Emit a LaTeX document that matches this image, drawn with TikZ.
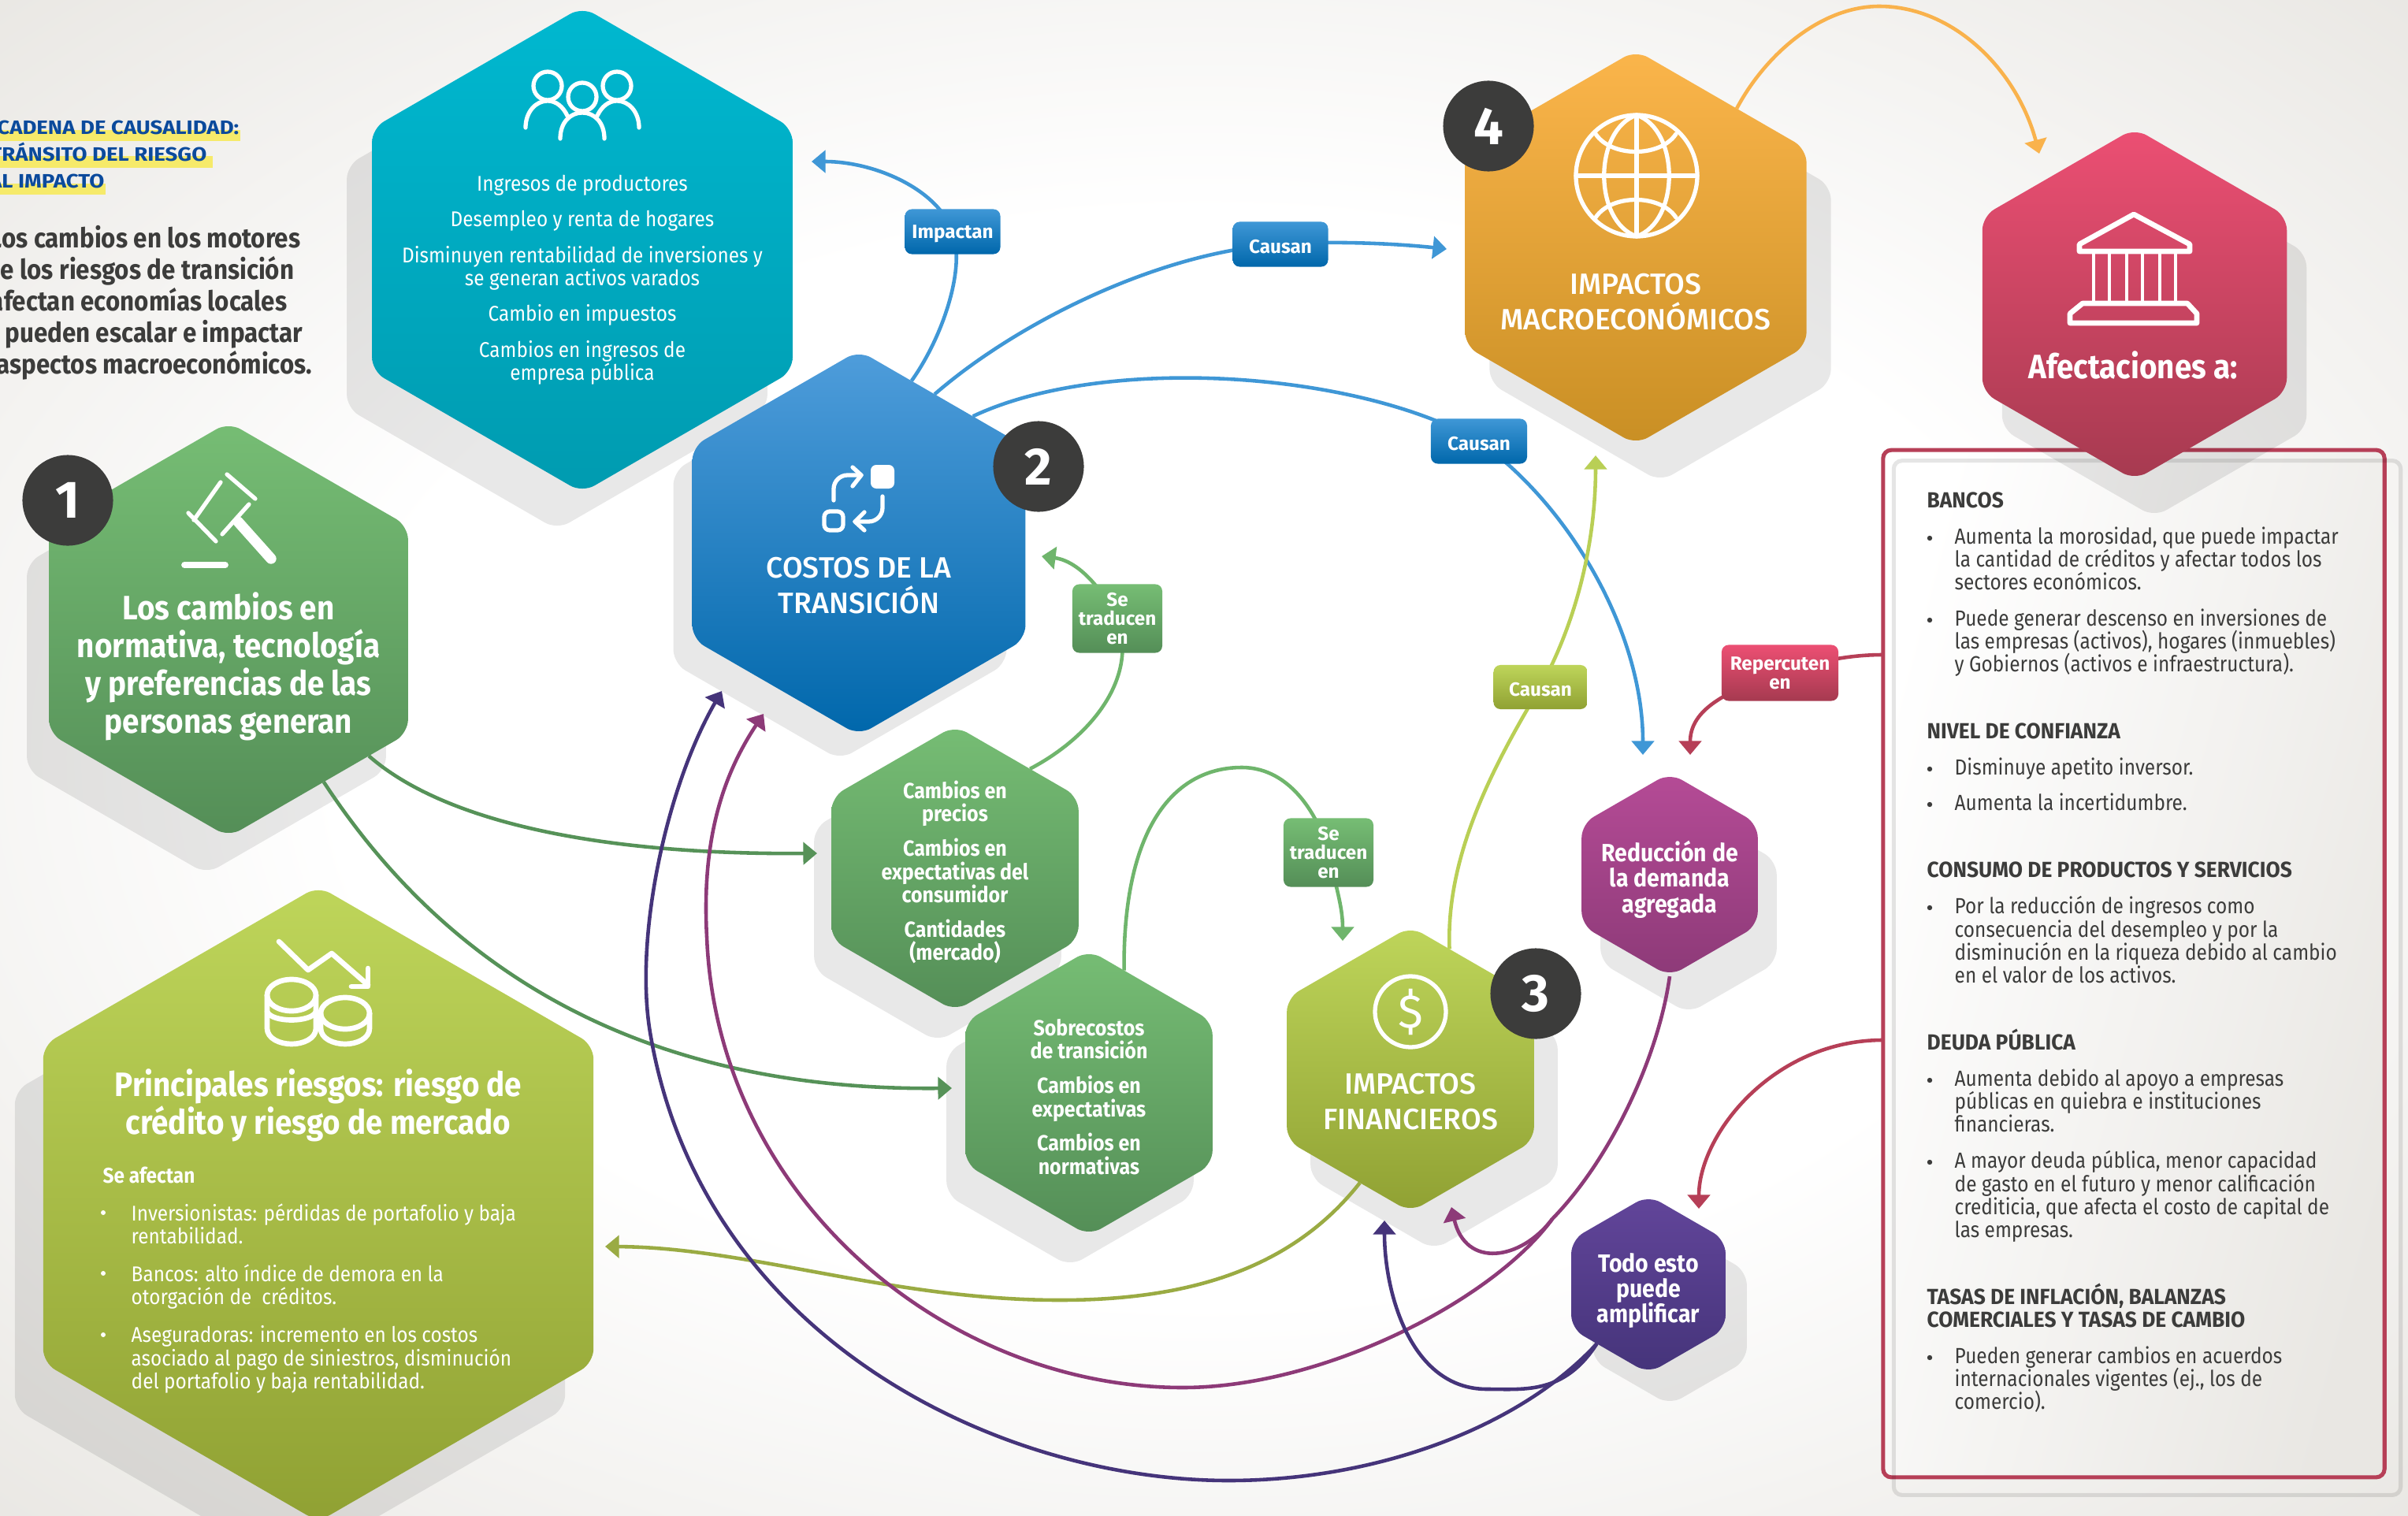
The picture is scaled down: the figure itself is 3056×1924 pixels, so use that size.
\documentclass[tikz,border=0pt]{standalone}
\usepackage{xcolor}
\usepackage{fontspec}
\usetikzlibrary{shapes.geometric, arrows.meta}
\setmainfont{Fira Sans}
\newfontfamily\condfont{Fira Sans}[FakeStretch=0.88]
\newfontfamily\narrowfont{Fira Sans}[FakeStretch=0.9]
\newfontfamily\headfont{Fira Sans}[FakeStretch=0.95]
\newfontfamily\widefont{Fira Sans}[FakeStretch=1.12]
\newfontfamily\mediumfont{Fira Sans Medium}
\lineskiplimit=-20pt

\definecolor{pageedge}{HTML}{E9E7E3}
\definecolor{darktext}{HTML}{3C3C3B}
\definecolor{tealtop}{HTML}{00B8D0}
\definecolor{tealbot}{HTML}{009BB0}
\definecolor{greentop}{HTML}{76BD74}
\definecolor{greenbot}{HTML}{548E57}
\definecolor{bluetop}{HTML}{4F9DDB}
\definecolor{bluebot}{HTML}{0067AB}
\definecolor{orangetop}{HTML}{FBB54B}
\definecolor{orangebot}{HTML}{C98F24}
\definecolor{rosetop}{HTML}{EC4F73}
\definecolor{rosebot}{HTML}{A63A50}
\definecolor{olivetop}{HTML}{BED55A}
\definecolor{olivebot}{HTML}{90A133}
\definecolor{plumtop}{HTML}{B54B96}
\definecolor{plumbot}{HTML}{8D3A78}
\definecolor{indigotop}{HTML}{62459A}
\definecolor{indigobot}{HTML}{45347A}
\definecolor{linkblue}{HTML}{3F97D6}
\definecolor{linkgreen}{HTML}{6FB56C}
\definecolor{linkforest}{HTML}{569258}
\definecolor{linkolive}{HTML}{B9CF55}
\definecolor{linkmoss}{HTML}{9AAB43}
\definecolor{linkred}{HTML}{B63F57}
\definecolor{linkorange}{HTML}{F9B24C}
\definecolor{titleblue}{HTML}{0B4A9C}
\definecolor{marker}{HTML}{F6EA6A}

\pgfdeclareradialshading{pagefade}{\pgfpointorigin}{color(0bp)=(white); color(18bp)=(white); color(36bp)=(pageedge); color(50bp)=(pageedge)}
\pgfdeclarelayer{back}
\pgfdeclarelayer{lines}
\pgfsetlayers{back,lines,main}

\begin{document}
\begin{tikzpicture}[
            x=0.01cm, y=-0.01cm,
            hexa/.style={regular polygon, regular polygon sides=6, shape border rotate=30, rounded corners=5pt, inner sep=0pt, outer sep=0pt},
            hexshadow/.style={regular polygon, regular polygon sides=6, shape border rotate=30, rounded corners=5pt, inner sep=0pt, fill=black, fill opacity=0.09},
            hextext/.style={text=white, align=center, inner sep=0pt, font=\narrowfont\bfseries\fontsize{7.9}{8.4}\selectfont},
            hexbig/.style={text=white, align=center, inner sep=0pt, font=\narrowfont\bfseries\fontsize{9}{9.2}\selectfont},
            tag/.style={rounded corners=2.5pt, inner sep=0pt, text=white, align=center, font=\bfseries\fontsize{6.9}{6.9}\selectfont,
                execute at begin node={\rule{0pt}{6.4pt}}},
            num/.style={circle, fill=darktext, inner sep=0pt, minimum size=1.15cm, text=white, font=\bfseries\fontsize{19}{19}\selectfont},
            headline/.style={text=white, align=center, inner sep=0pt, font=\mediumfont\fontsize{10.6}{12.8}\selectfont},
            bigline/.style={text=white, align=center, inner sep=0pt, font=\narrowfont\bfseries\fontsize{12.2}{13.7}\selectfont},
            lighttext/.style={text=white, inner sep=0pt, font=\narrowfont\fontsize{7.7}{8.3}\selectfont},
            paneltext/.style={anchor=north west, align=left, inner sep=0pt, text=darktext, font=\condfont\fontsize{7.9}{8.33}\selectfont},
            panelhead/.style={paneltext, font=\headfont\bfseries\fontsize{7.9}{8.33}\selectfont},
            sidetitle/.style={anchor=base east, inner sep=0pt, text=titleblue, font=\widefont\bfseries\fontsize{7}{7}\selectfont},
            sidetext/.style={anchor=base east, inner sep=0pt, text=darktext, font=\narrowfont\bfseries\fontsize{9.9}{11}\selectfont},
            link/.style={line width=1.3pt, -{Triangle[width=8pt,length=5pt]}},
            icon/.style={draw=white, line width=1.5pt, line cap=round, line join=round},
        ]
            \useasboundingbox (0,0) rectangle (3056,1924);
            \begin{pgfonlayer}{back}
                \shade[shading=pagefade] (0,0) rectangle (3056,1924);
                \node[rectangle, rounded corners=3pt, inner sep=0pt, outer sep=0pt, draw=linkred, line width=1.45pt,
                    left color=white, right color=pageedge, shading angle=75,
                    minimum width=6.36cm, minimum height=13.03cm] (panel) at (2708,1223) {};
                \node[rectangle, rounded corners=3pt, inner sep=0pt, draw=black, draw opacity=0.1, line width=1.45pt,
                    minimum width=6.43cm, minimum height=13.12cm] (panelshadow) at (2725,1241) {};
                \node[hexshadow, minimum size=6.16cm] (ingresosshadow) at (707,364) {};
                \node[hexshadow, minimum size=5.26cm] (motoresshadow) at (262,846) {};
                \node[hexshadow, minimum size=4.88cm] (costosshadow) at (1066,720) {};
                \node[hexshadow, minimum size=8.06cm] (riesgosshadow) at (368,1586) {};
                \node[hexshadow, minimum size=3.62cm] (preciosshadow) at (1190,1141) {};
                \node[hexshadow, minimum size=3.62cm] (sobrecostosshadow) at (1358,1426) {};
                \node[hexshadow, minimum size=3.62cm] (financierosshadow) at (1820,1405) {};
                \node[hexshadow, minimum size=2.58cm] (demandashadow) at (2143,1157) {};
                \node[hexshadow, minimum size=2.26cm] (amplificarshadow) at (2119,1670) {};
                \node[hexshadow, minimum size=5.00cm] (macroshadow) at (2107,361) {};
                \node[hexshadow, minimum size=4.46cm] (afectacionesshadow) at (2734,433) {};
            \end{pgfonlayer}

            \clip (0,0) rectangle (3056,1924);

            \fill[marker] (0,165) rectangle (305,179);
            \fill[marker] (0,198) rectangle (270,213);
            \fill[marker] (0,233) rectangle (134,247);
            \node[sidetitle] (titlea) at (304,170) {CADENA DE CAUSALIDAD:};
            \node[sidetitle] (titleb) at (263,204) {TRÁNSITO DEL RIESGO};
            \node[sidetitle] (titlec) at (133,238) {AL IMPACTO};
            \node[sidetext] (sidea) at (382,314) {Los cambios en los motores};
            \node[sidetext] (sideb) at (374,354) {de los riesgos de transición};
            \node[sidetext] (sidec) at (365,394) {afectan economías locales};
            \node[sidetext] (sided) at (385,434) {y pueden escalar e impactar};
            \node[sidetext] (sidee) at (397,474) {aspectos macroeconómicos.};

            \node[hexa, top color=tealtop, bottom color=tealbot, minimum size=6.16cm] (ingresos) at (739,317) {};
            \node[lighttext, align=center] (ingresostext) at (739,355) {Ingresos de productores\\[4.6pt]
                Desempleo y renta de hogares\\[4.6pt]
                Disminuyen rentabilidad de inversiones y\\se generan activos varados\\[4.6pt]
                Cambio en impuestos\\[4.6pt]
                Cambios en ingresos de\\empresa pública};

            \node[hexa, top color=greentop, bottom color=greenbot, minimum size=5.26cm] (motores) at (290,799) {};
            \node[bigline] (motorestext) at (290,846) {Los cambios en\\normativa, tecnología\\y preferencias de las\\personas generan};

            \node[hexa, top color=bluetop, bottom color=bluebot, minimum size=4.88cm] (costos) at (1090,689) {};
            \node[headline] (costostext) at (1090,743) {COSTOS DE LA\\TRANSICIÓN};

            \node[hexa, top color=olivetop, bottom color=olivebot, minimum size=8.06cm] (riesgos) at (404,1528) {};
            \node[bigline] (riesgostitle) at (404,1403) {Principales riesgos: riesgo de\\crédito y riesgo de mercado};
            \node[lighttext, anchor=west, font=\narrowfont\bfseries\fontsize{7.7}{8.3}\selectfont] (seafectan) at (130,1491) {Se afectan};
            \node[lighttext, anchor=north west, align=left] (riesgosa) at (166,1527) {Inversionistas: pérdidas de portafolio y baja\\rentabilidad.};
            \node[lighttext, anchor=north west, align=left] (riesgosb) at (166,1604) {Bancos: alto índice de demora en la\\otorgación de\ \ créditos.};
            \node[lighttext, anchor=north west, align=left] (riesgosc) at (166,1682) {Aseguradoras: incremento en los costos\\asociado al pago de siniestros, disminución\\del portafolio y baja rentabilidad.};
            \fill[white] (131,1539) circle (3) (131,1616) circle (3) (131,1694) circle (3);

            \node[hexa, top color=greentop, bottom color=greenbot, minimum size=3.62cm] (precios) at (1212,1102) {};
            \node[hextext] (preciostext) at (1212,1107) {Cambios en\\precios\\[4pt]Cambios en\\expectativas del\\consumidor\\[4pt]Cantidades\\(mercado)};
            \node[hexa, top color=greentop, bottom color=greenbot, minimum size=3.62cm] (sobrecostos) at (1382,1387) {};
            \node[hextext] (sobrecostostext) at (1382,1392) {Sobrecostos\\de transición\\[4pt]Cambios en\\expectativas\\[4pt]Cambios en\\normativas};

            \node[hexa, top color=olivetop, bottom color=olivebot, minimum size=3.62cm] (financieros) at (1790,1357) {};
            \node[headline] (financierostext) at (1790,1398) {IMPACTOS\\FINANCIEROS};

            \node[hexa, top color=plumtop, bottom color=plumbot, minimum size=2.58cm] (demanda) at (2119,1110) {};
            \node[hexbig] (demandatext) at (2119,1116) {Reducción de\\la demanda\\agregada};
            \node[hexa, top color=indigotop, bottom color=indigobot, minimum size=2.26cm] (amplificar) at (2092,1630) {};
            \node[hexbig] (amplificartext) at (2092,1638) {Todo esto\\puede\\amplificar};

            \node[hexa, top color=orangetop, bottom color=orangebot, minimum size=5.00cm] (macro) at (2076,314) {};
            \node[headline] (macrotext) at (2076,383) {IMPACTOS\\MACROECONÓMICOS};

            \node[hexa, top color=rosetop, bottom color=rosebot, minimum size=4.46cm] (afectaciones) at (2709,386) {};
            \node[bigline] (afectacionestext) at (2707,463) {Afectaciones a:};

            \node[num] (uno) at (86,635) {1};
            \node[num] (dos) at (1318,592) {2};
            \node[num] (tres) at (1949,1261) {3};
            \node[num] (cuatro) at (1889,160) {4};

            \node[tag, top color=linkblue, bottom color=bluebot, minimum width=1.21cm, minimum height=0.57cm] (impactan) at (1209,294) {Impactan};
            \node[tag, top color=linkblue, bottom color=bluebot, minimum width=1.21cm, minimum height=0.57cm] (causana) at (1625,310) {Causan};
            \node[tag, top color=linkblue, bottom color=bluebot, minimum width=1.22cm, minimum height=0.57cm] (causanb) at (1877,560) {Causan};
            \node[tag, top color=olivetop, bottom color=olivebot, minimum width=1.19cm, minimum height=0.56cm] (causanc) at (1955,872) {Causan};
            \node[tag, top color=greentop, bottom color=greenbot, minimum width=1.14cm, minimum height=0.87cm] (traducena) at (1418,785) {Se\\traducen\\en};
            \node[tag, top color=greentop, bottom color=greenbot, minimum width=1.14cm, minimum height=0.87cm] (traducenb) at (1686,1082) {Se\\traducen\\en};
            \node[tag, top color=rosetop, bottom color=rosebot, minimum width=1.48cm, minimum height=0.71cm] (repercuten) at (2259,854) {Repercuten\\en};

            \node[panelhead] (bancos) at (2445,624) {BANCOS};
            \node[paneltext] (bancosa) at (2480,668) {Aumenta la morosidad, que puede impactar\\la cantidad de créditos y afectar todos los\\sectores económicos.};
            \node[paneltext] (bancosb) at (2480,772) {Puede generar descenso en inversiones de\\las empresas (activos), hogares (inmuebles)\\y Gobiernos (activos e infraestructura).};
            \node[panelhead] (confianza) at (2445,917) {NIVEL DE CONFIANZA};
            \node[paneltext] (confianzaa) at (2480,961) {Disminuye apetito inversor.};
            \node[paneltext] (confianzab) at (2480,1006) {Aumenta la incertidumbre.};
            \node[panelhead] (consumo) at (2445,1093) {CONSUMO DE PRODUCTOS Y SERVICIOS};
            \node[paneltext] (consumoa) at (2480,1137) {Por la reducción de ingresos como\\consecuencia del desempleo y por la\\disminución en la riqueza debido al cambio\\en el valor de los activos.};
            \node[panelhead] (deuda) at (2445,1305) {DEUDA PÚBLICA};
            \node[paneltext] (deudaa) at (2480,1356) {Aumenta debido al apoyo a empresas\\públicas en quiebra e instituciones\\financieras.};
            \node[paneltext] (deudab) at (2480,1460) {A mayor deuda pública, menor capacidad\\de gasto en el futuro y menor calificación\\crediticia, que afecta el costo de capital de\\las empresas.};
            \node[panelhead] (tasas) at (2445,1628) {TASAS DE INFLACIÓN, BALANZAS\\COMERCIALES Y TASAS DE CAMBIO};
            \node[paneltext] (tasasa) at (2480,1708) {Pueden generar cambios en acuerdos\\internacionales vigentes (ej., los de\\comercio).};
            \fill[darktext] (2449,683) circle (3.2) (2449,787) circle (3.2) (2449,976) circle (3.2) (2449,1021) circle (3.2)
                (2449,1152) circle (3.2) (2449,1371) circle (3.2) (2449,1475) circle (3.2) (2449,1723) circle (3.2);

            \draw[icon] (695,109) circle (18) (783,109) circle (18) (739,123) circle (18);
            \draw[icon] (667,162) .. controls (667,142) and (680,128) .. (695,128) .. controls (706,128) and (715,136) .. (720,147);
            \draw[icon] (811,162) .. controls (811,142) and (798,128) .. (783,128) .. controls (772,128) and (763,136) .. (758,147);
            \draw[icon] (711,176) .. controls (711,155) and (724,143) .. (739,143) .. controls (754,143) and (767,155) .. (767,176);

            \draw[icon] (288,602) -- (324,633) (239,651) -- (274,687) (280,612) -- (246,660) (316,640) -- (282,678);
            \draw[icon, line width=3.8pt] (302,662) -- (344,709);
            \draw[icon, line width=2.2pt] (234,717) -- (286,717);

            \fill[white, rounded corners=2pt] (1105,590) rectangle (1135,620);
            \draw[icon, rounded corners=2pt] (1046,649) rectangle (1070,673);
            \draw[icon, rounded corners=5pt] (1058,635) -- (1058,603) -- (1093,603);
            \draw[icon] (1082,593) -- (1093,603) -- (1082,617);
            \draw[icon, rounded corners=5pt] (1120,630) -- (1120,662) -- (1085,662);
            \draw[icon] (1097,650) -- (1085,662) -- (1097,673);

            \draw[icon, line width=1.9pt] (354,1195) -- (391,1231) -- (421,1210) -- (467,1250);
            \draw[icon, line width=1.9pt] (467,1229) -- (467,1252) -- (446,1252);
            \draw[icon, line width=1.9pt] (370,1263) ellipse[x radius=31, y radius=20] (438,1286) ellipse[x radius=31, y radius=20];
            \draw[icon, line width=1.9pt] (339,1263) -- (339,1305) .. controls (339,1318) and (355,1325) .. (370,1325) .. controls (385,1325) and (401,1318) .. (401,1305) -- (401,1263);
            \draw[icon, line width=1.9pt] (339,1284) .. controls (345,1298) and (395,1298) .. (401,1284);
            \draw[icon, line width=1.9pt] (407,1286) -- (407,1305) .. controls (407,1318) and (423,1325) .. (438,1325) .. controls (453,1325) and (469,1318) .. (469,1305) -- (469,1286);

            \draw[icon] (1790,1284) circle (45);
            \node[inner sep=0pt, text=white, font=\fontsize{17}{17}\selectfont] (dollar) at (1790,1284) {\$};

            \draw[icon] (2077,223) circle (77);
            \draw[icon] (2077,146) -- (2077,300) (2000,223) -- (2154,223);
            \draw[icon] (2077,146) .. controls (2022,165) and (2022,281) .. (2077,300);
            \draw[icon] (2077,146) .. controls (2132,165) and (2132,281) .. (2077,300);
            \draw[icon] (2025,170) .. controls (2045,200) and (2107,200) .. (2127,170);
            \draw[icon] (2025,276) .. controls (2045,246) and (2107,246) .. (2127,276);

            \draw[icon, line width=1.9pt] (2708,272) -- (2779,310) -- (2779,319) -- (2639,319) -- (2639,310) -- cycle;
            \draw[icon, line width=1.4pt] (2657,319) -- (2657,382) (2677,319) -- (2677,382) (2699,319) -- (2699,382)
                (2719,319) -- (2719,382) (2741,319) -- (2741,382) (2761,319) -- (2761,382);
            \draw[icon, line width=1.9pt] (2643,385) -- (2776,385) -- (2788,398) -- (2788,410) -- (2627,410) -- (2627,398) -- cycle;

            \coordinate (tipingresos) at (1030,205);
            \coordinate (tipmacro) at (1836,316);
            \coordinate (tipdemanda) at (2085,958);
            \coordinate (tipcostos) at (1322,706);
            \coordinate (tipfinanciero) at (1704,1194);
            \coordinate (tipimpactos) at (2025,578);
            \coordinate (tipriesgos) at (768,1582);
            \coordinate (tipprecios) at (1037,1083);
            \coordinate (tipsobre) at (1208,1381);
            \coordinate (tiprepercuten) at (2145,958);
            \coordinate (tipamplificar) at (2156,1534);
            \coordinate (tipplum) at (969,906);
            \coordinate (tipindigo) at (916,877);
            \coordinate (tipplumb) at (1842,1532);
            \coordinate (tipindigob) at (1757,1549);
            \coordinate (tipafectaciones) at (2588,195);
            \coordinate (cruce) at (1970,1547);

            \begin{pgfonlayer}{lines}
                \draw[link, linkblue] (costos.72) .. controls (1195,430) and (1226,342) .. (impactan.center) .. controls (1190,240) and (1110,205) .. (tipingresos);
                \draw[link, linkblue] (costos.63) .. controls (1290,410) and (1470,320) .. (causana.center) .. controls (1700,305) and (1780,310) .. (tipmacro);
                \draw[link, linkblue] (costos.48) .. controls (1400,450) and (1720,470) .. (causanb.center) .. controls (1990,640) and (2085,800) .. (tipdemanda);
                \draw[link, linkgreen] (precios.53) .. controls (1385,935) and (1445,860) .. (traducena.center) .. controls (1400,750) and (1370,712) .. (tipcostos);
                \draw[link, linkgreen] (sobrecostos.74) .. controls (1425,1050) and (1490,974) .. (1576,974) .. controls (1640,974) and (1675,1040) .. (traducenb.center) .. controls (1695,1125) and (1704,1150) .. (tipfinanciero);
                \draw[link, linkolive] (financieros.72) .. controls (1835,1090) and (1890,980) .. (causanc.center) .. controls (2000,790) and (2025,690) .. (tipimpactos);
                \draw[link, linkmoss] (financieros.-114) .. controls (1640,1610) and (1510,1650) .. (1345,1650) .. controls (1130,1650) and (950,1583) .. (tipriesgos);
                \draw[link, linkforest] (motores.-42) .. controls (560,1040) and (750,1085) .. (tipprecios);
                \draw[link, linkforest] (motores.-58) .. controls (560,1220) and (800,1385) .. (tipsobre);
                \draw[link, plumbot] (demanda.-90) .. controls (2105,1340) and (2045,1470) .. (cruce) .. controls (1895,1650) and (1680,1761) .. (1501,1761)
                    .. controls (1200,1761) and (910,1520) .. (897,1189) .. controls (890,1060) and (920,980) .. (tipplum);
                \draw[link, plumbot] (cruce) .. controls (1930,1600) and (1860,1610) .. (tipplumb);
                \draw[link, indigobot] (amplificar.-131) .. controls (1930,1810) and (1750,1879) .. (1559,1879) .. controls (1270,1879) and (890,1700) .. (825,1310)
                    .. controls (805,1190) and (845,1000) .. (tipindigo);
                \draw[link, indigobot] (amplificar.-131) .. controls (1985,1770) and (1935,1763) .. (1887,1763) .. controls (1790,1763) and (1757,1640) .. (tipindigob);
                \draw[link, linkorange] (macro.54) .. controls (2240,70) and (2310,8) .. (2385,8) .. controls (2480,8) and (2560,90) .. (tipafectaciones);
                \draw[link, linkred] (panel.west |- 0,831) .. controls (2350,831) and (2310,838) .. (repercuten.center) .. controls (2180,880) and (2145,905) .. (tiprepercuten);
                \draw[link, linkred] (panel.west |- 0,1320) .. controls (2250,1320) and (2156,1440) .. (tipamplificar);
            \end{pgfonlayer}
        \end{tikzpicture}
\end{document}
